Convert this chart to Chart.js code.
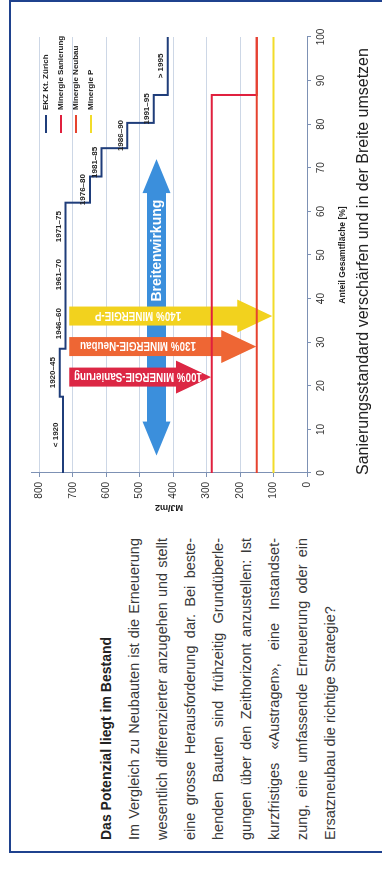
<!DOCTYPE html>
<html>
<head>
<meta charset="utf-8">
<script src="https://cdn.jsdelivr.net/npm/chart.js@4"></script>
<style>
  body { margin: 0; background: #fff; overflow: hidden; }
  #page { position: absolute; left: 0; top: 0; width: 875px; height: 382px;
          transform-origin: 0 0; transform: translate(0, 875px) rotate(-90deg);
          font-family: "Liberation Sans", Arial, sans-serif; color: #333; }
  .frame { position: absolute; left: 22px; top: 9px; width: 849px; height: 420px;
           border: 2px solid #1f428e; border-bottom: none; }
  .text { position: absolute; left: 35px; top: 92px; width: 302px; font-size: 14.5px; line-height: 28px; color: #383838; }
  .text h3 { margin: 0; font-size: 14px; font-weight: bold; color: #222; line-height: 28px; white-space: nowrap; }
  .text .l { text-align: justify; text-align-last: justify; white-space: nowrap; }
  .text .last { text-align: left; white-space: nowrap; }
  #wrap { position: absolute; left: 340px; top: 20px; width: 520px; height: 335px; }
  .legend { position: absolute; left: 742px; top: 38px; font: bold 8px "Liberation Sans", sans-serif; color: #222; }
  .legend div { height: 15px; line-height: 15px; white-space: nowrap; }
  .legend span { display: inline-block; width: 18px; height: 2px; vertical-align: middle; margin-right: 5px; }
  .caption { position: absolute; left: 400px; top: 354px; font-size: 16px; color: #222; white-space: nowrap; }
</style>
</head>
<body>
<div id="page">
  <div class="frame"></div>
  <div class="text">
    <h3>Das Potenzial liegt im Bestand</h3>
    <div class="l">Im Vergleich zu Neubauten ist die Erneuerung</div>
    <div class="l">wesentlich differenzierter anzugehen und stellt</div>
    <div class="l">eine grosse Herausforderung dar. Bei beste-</div>
    <div class="l">henden Bauten sind frühzeitig Grundüberle-</div>
    <div class="l">gungen über den Zeithorizont anzustellen: Ist</div>
    <div class="l">kurzfristiges «Austragen», eine Instandset-</div>
    <div class="l">zung, eine umfassende Erneuerung oder ein</div>
    <div class="last">Ersatzneubau die richtige Strategie?</div>
  </div>
  <div id="wrap"><canvas id="myChart" width="520" height="335"></canvas></div>
  <div class="legend" id="legend"></div>
  <div class="caption">Sanierungsstandard verschärfen und in der Breite umsetzen</div>
</div>
<script>
// EKZ Kt. Zürich: Bauperioden, kumulierter Flächenanteil bis Ende Periode (%), Energiekennzahl (MJ/m2)
var periods = ['< 1920', '1920–45', '1946–60', '1961–70', '1971–75', '1976–80', '1981–85', '1986–90', '1991–95', '> 1995'];
var shareEnd = [17.5, 28.5, 40, 51, 62, 68, 74.5, 80.3, 86.7, 100];
var ekzValues = [729, 739, 722, 722, 722, 649, 614, 537, 458, 416];

// Minergie-Grenzwerte
var sanierungShare = [0, 86.7, 86.7, 100];
var sanierungValues = [285, 285, 150, 150];
var neubauShare = [0, 100];
var neubauValues = [150, 150];
var pShare = [0, 100];
var pValues = [100, 100];

var seriesNames = ['EKZ Kt. Zürich', 'Minergie Sanierung', 'Minergie Neubau', 'Minergie P'];
var seriesColors = ['#1f3d7a', '#e0203e', '#e6432f', '#f2dc2a'];

// Pfeile
var arrowLabels = ['100% MINERGIE-Sanierung', '130% MINERGIE-Neubau', '140% MINERGIE-P'];
var arrowShares = [22, 29, 36];
var arrowFrom = [711, 711, 711];
var arrowTo = [287, 152, 104];
var arrowColors = ['#dc2744', '#ee6634', '#f2d21e'];
var breitenLabel = 'Breitenwirkung';
var breitenRange = [4, 72];
var breitenValue = 450;

var yTicks = ['0', '100', '200', '300', '400', '500', '600', '700', '800'];

function toPoints(xs, ys) {
    return xs.map(function (x, i) { return {x: x, y: ys[i]}; });
}

var ekzPoints = [];
periods.forEach(function (p, i) {
    var start = i === 0 ? 0 : shareEnd[i - 1];
    ekzPoints.push({x: start, y: ekzValues[i]});
    ekzPoints.push({x: shareEnd[i], y: ekzValues[i]});
});

function arrowPath(ctx, x1, y1, x2, y2, body, head, headLen, both) {
    var dx = x2 - x1, dy = y2 - y1;
    var len = Math.hypot(dx, dy);
    var ux = dx / len, uy = dy / len, nx = -uy, ny = ux;
    var hb = body / 2, hh = head / 2;
    function p(a, n) { return [x1 + ux * a + nx * n, y1 + uy * a + ny * n]; }
    var pts = [];
    if (both) pts.push(p(0, 0), p(headLen, hh), p(headLen, hb));
    else pts.push(p(0, hb));
    pts.push(p(len - headLen, hb), p(len - headLen, hh), p(len, 0), p(len - headLen, -hh), p(len - headLen, -hb));
    if (both) pts.push(p(headLen, -hb), p(headLen, -hh));
    else pts.push(p(0, -hb));
    ctx.beginPath();
    pts.forEach(function (q, i) { if (i) ctx.lineTo(q[0], q[1]); else ctx.moveTo(q[0], q[1]); });
    ctx.closePath();
}

var arrowsPlugin = {
    id: 'arrows',
    beforeDatasetsDraw: function (chart) {
        var ctx = chart.ctx, xs = chart.scales.x, ys = chart.scales.y;
        ctx.save();
        // Breitenwirkung
        var by = ys.getPixelForValue(breitenValue);
        arrowPath(ctx, xs.getPixelForValue(breitenRange[0]), by, xs.getPixelForValue(breitenRange[1]), by, 19, 28, 34, true);
        ctx.fillStyle = '#3b8fdc';
        ctx.fill();
        ctx.fillStyle = '#fff';
        ctx.font = 'bold 14px "Liberation Sans", sans-serif';
        ctx.textAlign = 'center';
        ctx.textBaseline = 'middle';
        ctx.fillText(breitenLabel, xs.getPixelForValue(51), by + 1);
        // Minergie-Pfeile
        arrowLabels.forEach(function (label, i) {
            var x = xs.getPixelForValue(arrowShares[i]);
            arrowPath(ctx, x, ys.getPixelForValue(arrowFrom[i]), x, ys.getPixelForValue(arrowTo[i]), 19, 33, 35, false);
            ctx.fillStyle = arrowColors[i];
            ctx.fill();
            ctx.save();
            ctx.translate(x + 1, ys.getPixelForValue(505));
            ctx.rotate(-Math.PI / 2);
            ctx.scale(0.82, 1);
            ctx.fillStyle = '#fff';
            ctx.font = 'bold 12px "Liberation Sans", sans-serif';
            ctx.fillText(label, 0, 0);
            ctx.restore();
        });
        ctx.restore();
    },
    afterDatasetsDraw: function (chart) {
        var ctx = chart.ctx, xs = chart.scales.x, ys = chart.scales.y;
        ctx.save();
        ctx.fillStyle = '#222';
        ctx.font = 'bold 8px "Liberation Sans", sans-serif';
        ctx.textAlign = 'center';
        ctx.textBaseline = 'bottom';
        periods.forEach(function (p, i) {
            var start = i === 0 ? 0 : shareEnd[i - 1];
            ctx.fillText(p, xs.getPixelForValue((start + shareEnd[i]) / 2), ys.getPixelForValue(ekzValues[i]) - 3);
        });
        ctx.restore();
    }
};

var seriesData = [
    ekzPoints,
    toPoints(sanierungShare, sanierungValues),
    toPoints(neubauShare, neubauValues),
    toPoints(pShare, pValues)
];

var axisColor = '#7d91b4';
var energyChart = document.getElementById('myChart').getContext('2d');
var myChart = new Chart(energyChart, {
    type: 'line',
    data: {
        datasets: seriesNames.map(function (name, i) {
            return {
                label: name,
                data: seriesData[i],
                borderColor: seriesColors[i],
                backgroundColor: seriesColors[i],
                borderWidth: 2,
                pointRadius: 0,
                fill: false,
                tension: 0
            };
        }).reverse()
    },
    options: {
        responsive: false,
        animation: false,
        devicePixelRatio: 1,
        layout: { padding: { top: 8, right: 22, left: 0, bottom: 0 } },
        plugins: { legend: { display: false }, tooltip: { enabled: false } },
        scales: {
            x: {
                type: 'linear',
                min: 0, max: 100,
                ticks: { stepSize: 10, color: '#333', padding: 4, maxRotation: 0,
                         font: { family: '"Liberation Sans", Arial, sans-serif', size: 10 } },
                grid: { color: 'transparent', tickColor: axisColor, tickLength: 4 },
                border: { color: axisColor, width: 1 },
                title: { display: true, text: 'Anteil Gesamtfläche [%]', color: '#222',
                         padding: { top: 0, bottom: 7 },
                         font: { family: '"Liberation Sans", sans-serif', size: 8.5, weight: 'bold' } },
                afterFit: function (scale) { scale.height = 48; }
            },
            y: {
                min: 0, max: 825,
                ticks: { stepSize: 100, includeBounds: false, color: '#333', padding: 5,
                         callback: function (v) { return yTicks[v / 100]; },
                         font: { family: '"Liberation Sans", Arial, sans-serif', size: 10 } },
                grid: { color: '#cdd7e6', borderDash: [1, 2], tickColor: axisColor, tickLength: 4 },
                border: { color: axisColor, width: 1 },
                title: { display: true, text: 'MJ/m2', color: '#222',
                         padding: { top: 22, bottom: 0 },
                         font: { family: '"Liberation Sans", sans-serif', size: 9, weight: 'bold' } },
                afterFit: function (scale) { scale.width = 62; }
            }
        }
    },
    plugins: [arrowsPlugin]
});

// Legende
var legendDiv = document.getElementById('legend');
seriesNames.forEach(function (name, i) {
    var row = document.createElement('div');
    var mark = document.createElement('span');
    mark.style.background = seriesColors[i];
    row.appendChild(mark);
    row.appendChild(document.createTextNode(name));
    legendDiv.appendChild(row);
});
</script>
</body>
</html>
